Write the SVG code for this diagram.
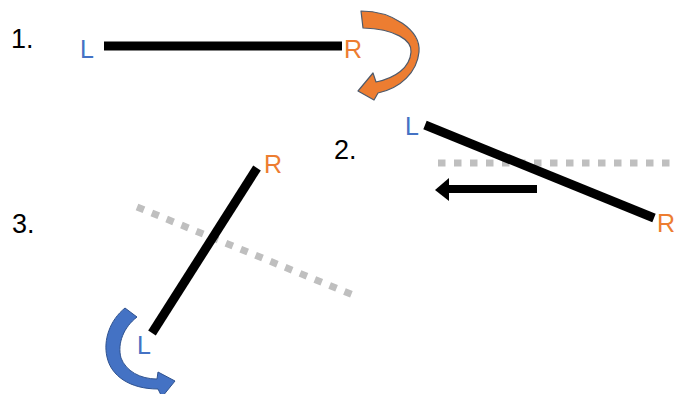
<svg xmlns="http://www.w3.org/2000/svg" width="674" height="394" viewBox="0 0 674 394">
<style>
text{font-family:"Liberation Sans",Arial,sans-serif;font-size:25px}
.num{fill:#000;font-size:27px}
.L{fill:#4472C4}
.R{fill:#ED7D31}
.bar{stroke:#000;stroke-width:9;fill:none}
.dot{stroke:#BFBFBF;stroke-width:7;stroke-dasharray:7.5 8.5;fill:none}
</style>
<rect width="674" height="394" fill="#fff"/>
<g id="step1">
<text class="num" x="11" y="48">1.</text>
<text class="L" x="80" y="58">L</text>
<line class="bar" x1="104" y1="46" x2="342" y2="46"/>
<text class="R" x="344" y="58">R</text>
<path id="orange-arrow" d="M361,11 C392,11 421,30 419,52 C417,72 401,88 378,93 L374,100 L358,91 L373,73 L376,82 C395,78 410,68 411,52 C412,40 395,29 363,28 Z" fill="#ED7D31" stroke="#4E5A6B" stroke-width="1.2" stroke-linejoin="round"/>
</g>
<g id="step2">
<text class="num" x="334" y="159">2.</text>
<text class="L" x="405" y="135">L</text>
<line class="dot" x1="438" y1="163" x2="674" y2="163"/>
<line class="bar" x1="425" y1="125" x2="654" y2="218"/>
<text class="R" x="657" y="232">R</text>
<path d="M537,189 L448,189" stroke="#000" stroke-width="8"/>
<path d="M435,190 L449,178 L449,201 Z" fill="#000"/>
</g>
<g id="step3">
<text class="num" x="12" y="233">3.</text>
<text class="R" x="264" y="173">R</text>
<line class="dot" x1="137" y1="207" x2="358" y2="297"/>
<line class="bar" x1="257" y1="168" x2="152" y2="333"/>
<text class="L" x="137" y="354">L</text>
<path id="blue-arrow" d="M125,308 C110,320 103,340 107,357 C111,376 130,389 158,389 L162,397 L175,381 L158,372 L157,379 C140,379 126,371 121,358 C117,343 124,327 137,317 Z" fill="#4472C4" stroke="#2F528F" stroke-width="1" stroke-linejoin="round"/>
</g>
</svg>
